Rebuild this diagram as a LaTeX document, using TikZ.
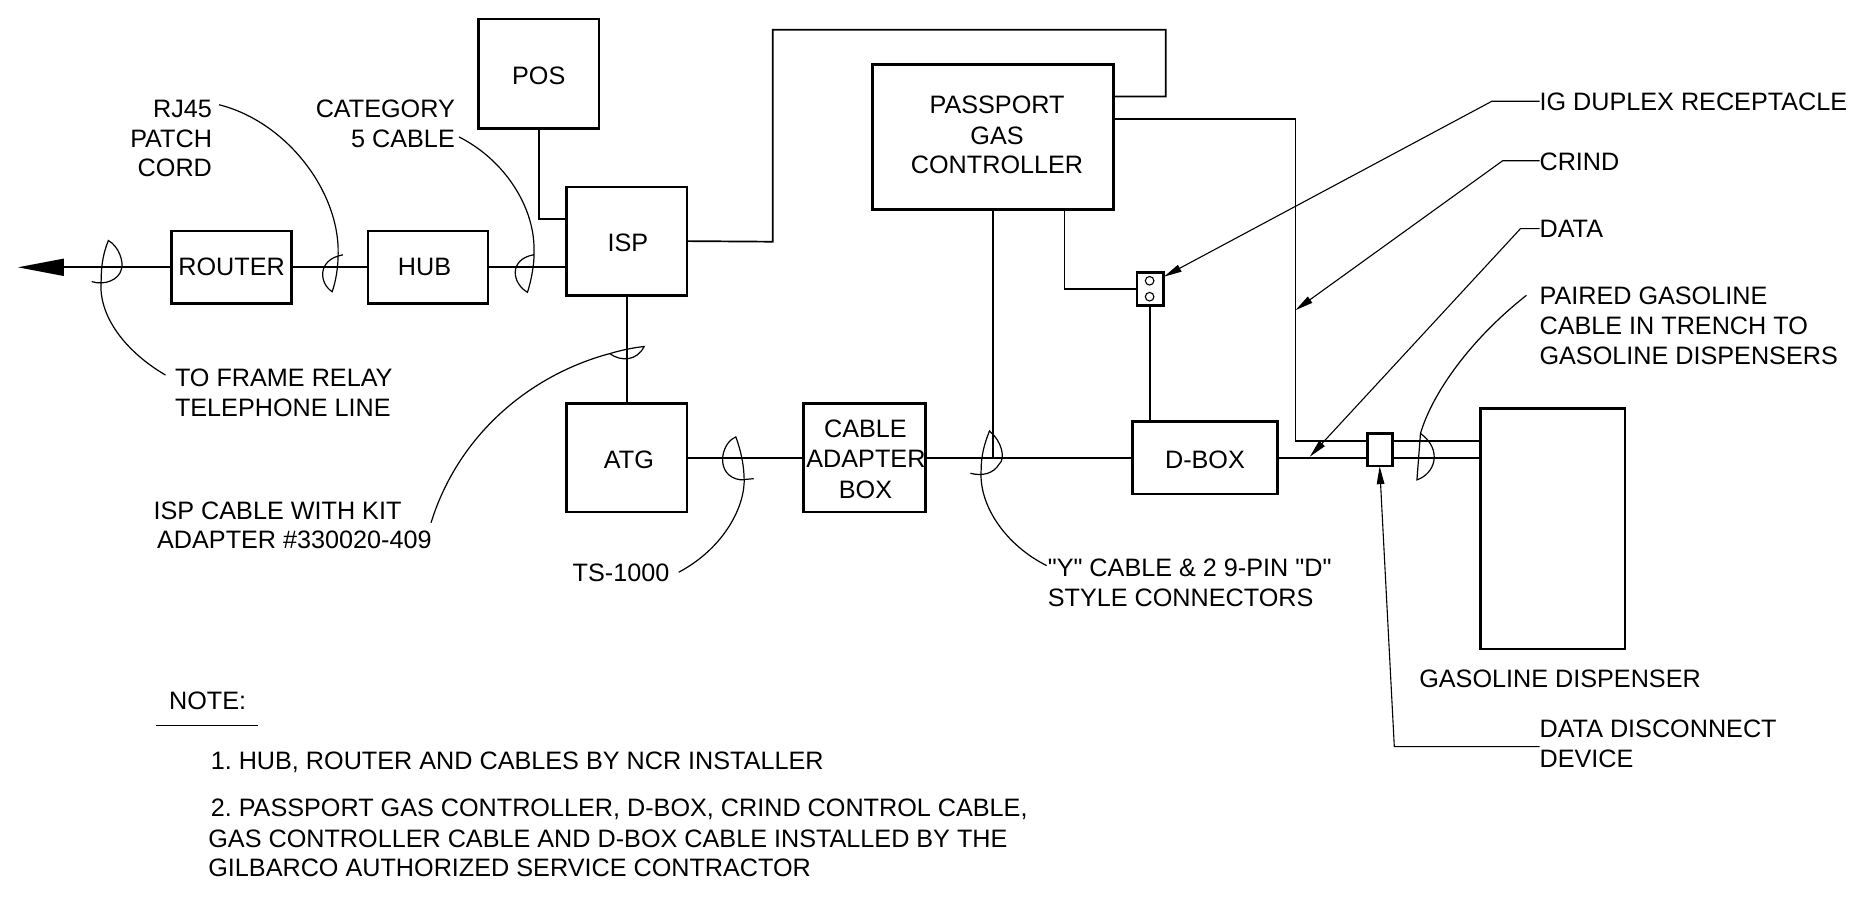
\documentclass[tikz,border=0pt]{standalone}
\usepackage{fontspec}
\setmainfont{Liberation Sans}[Ligatures=TeXOff]
\usetikzlibrary{arrows.meta}
\frenchspacing
\newcommand\sh[3]{\hspace*{#1pt}\raisebox{#2pt}[\height][\depth]{#3}}
\tikzset{
  boxnode/.style 2 args={draw,line width=2.6pt,inner sep=0pt,outer sep=0pt,align=center,
     minimum width=#1*1.1907pt,minimum height=#2*1.1907pt,font=\fontsize{25.2}{30.2}\selectfont},
  txt/.style={inner sep=0pt,outer sep=0pt,font=\fontsize{25.2}{30.2}\selectfont,anchor=base west},
  txtr/.style={txt,anchor=base east},
  wire/.style={line width=1.7pt},
  leader/.style={line width=1.2pt},
  tiphead/.style={-{Triangle[length=18pt,width=7.5pt]},line width=1.1pt},
}
\begin{document}
\begin{tikzpicture}[x=1.1907pt,y=-1.1907pt]
\useasboundingbox (0,0) rectangle (1568,754.2);
% boxes
\node[boxnode={101}{92}] (pos) at (452.5,62) {\sh{0}{-2}{POS}};
\node[boxnode={101}{61}] (router) at (194.5,224.5) {ROUTER};
\node[boxnode={101}{61}] (hub) at (359.5,224.5) {\sh{0}{0}{HUB}\hspace*{7pt}};
\node[boxnode={101}{91}] (isp) at (526.5,202.5) {\sh{2}{-2}{ISP}};
\node[boxnode={202}{122}] (gc) at (834,115) {\sh{8}{2}{PASSPORT}\\\sh{8}{1}{GAS}\\\sh{8}{2}{CONTROLLER}};
\node[boxnode={101}{91}] (atg) at (526.5,384.5) {\sh{4}{-1.6}{ATG}};
\node[boxnode={102}{91}] (cab) at (726,384.5) {\sh{2}{-1}{CABLE}\\\sh{3}{-1}{ADAPTER}\\\sh{2}{-2.2}{BOX}};
\node[boxnode={121.5}{61}] (dbox) at (1012,384.5) {\sh{0}{-1.6}{D-BOX}};
\node[boxnode={22}{28}] (rec) at (966,242.7) {};
\node[boxnode={121.5}{202}] (disp) at (1304,444) {};
\draw[line width=1.1pt] (965.5,235.8) circle (3.6) (965.5,249.2) circle (3.6);
% named points
\coordinate (tip) at (15,224.5);
\coordinate (ispin) at (476,184);
\coordinate (a1) at (649,203);
\coordinate (a2) at (649,25);
\coordinate (a3) at (979,25);
\coordinate (a4) at (979,81);
\coordinate (gcb) at (935,81);
\coordinate (gcr) at (935,100);
\coordinate (b1) at (1088,100);
\coordinate (b2) at (1088,370.4);
\coordinate (dispa) at (1243,370.4);
\coordinate (dispb) at (1243,384.5);
\coordinate (gcc) at (834,176);
\coordinate (gcj) at (834,384.5);
\coordinate (gcd) at (894,176);
% wires
\draw[wire,-{Triangle[length=46pt,width=17pt]}] (router.west) -- (tip);
\draw[wire] (router.east) -- (hub.west);
\draw[wire] (hub.east) -- (isp.west |- hub.east);
\draw[wire] (pos.south) |- (ispin);
\draw[wire] (isp.east) -- (a1) -- (a2) -- (a3) -- (a4) -- (gcb);
\draw[wire] (isp.south) -- (atg.north);
\draw[wire] (gcr) -- (b1) -- (b2) -- (dispa);
\draw[wire] (gcc) -- (gcj);
\draw[wire] (gcd) |- (rec.west);
\draw[wire] (rec.south) -- (rec.south |- dbox.north);
\draw[wire] (atg.east) -- (cab.west);
\draw[wire] (cab.east) -- (dbox.west);
\draw[wire] (dbox.east) -- (dispb);
% disconnect device sits over the two wires
\node[boxnode={21}{27.5},fill=white] (ddd) at (1159,377.7) {};
% callout leaders
\coordinate (lig) at (1293,85);
\coordinate (lcr) at (1293,135);
\coordinate (lda) at (1293,192);
\coordinate (ldd) at (1293,627);
\draw[tiphead] (lig) -- (1253,85) -- (977.5,232.4);
\draw[tiphead] (lcr) -- (1262,135) -- (1088,260.5);
\draw[tiphead] (lda) -- (1277,192) -- (1100,383.6);
\draw[tiphead] (ldd) -- (1171,627) -- (1158.7,391.5);
\draw[leader] (139,315) .. controls (105,295) and (82,265) .. (85,235) .. controls (85,222) and (87,212) .. (91,202) .. controls (100,207) and (104,220) .. (102,226) .. controls (100,235) and (88,240) .. (77,236.5);
\draw[leader] (184,88) .. controls (240,102) and (285,160) .. (284,213) .. controls (284,225) and (282,236) .. (279,245) .. controls (268,238) and (266,218) .. (288,214);
\draw[leader] (385.5,115) .. controls (425,135) and (449,175) .. (448.5,210) .. controls (449,222) and (446,236) .. (443,245.5) .. controls (430,238) and (427,218) .. (448,214);
\draw[leader] (362,439) .. controls (385,365) and (445,315) .. (512,297) .. controls (522,294) and (532,292) .. (541,291) .. controls (535,303) and (522,304) .. (512,297);
\draw[leader] (570,480.6) .. controls (605,462) and (624,430) .. (625,405) .. controls (625,390) and (622,378) .. (618,367) .. controls (605,372) and (600,400) .. (622,403) -- (633,402);
\draw[leader] (879,475) .. controls (845,458) and (822,425) .. (824,395) .. controls (824,382) and (827,372) .. (831,362) .. controls (841,370) and (845,385) .. (839,390) .. controls (834,398) and (825,400) .. (815,397.5);
\draw[leader] (1282,248) .. controls (1235,285) and (1203,330) .. (1193,364) .. controls (1192,377) and (1191,390) .. (1190,403) .. controls (1205,398) and (1212,378) .. (1193,364);
\coordinate (nu1) at (131,609);
\coordinate (nu2) at (217,609);
\draw[leader] (nu1) -- (nu2);
% labels
\node[txtr] (t1) at (178,98.5) {RJ45};
\node[txtr] (t2) at (178,123.5) {PATCH};
\node[txtr] (t3) at (178,148.5) {CORD};
\node[txtr] (t4) at (382,98.5) {CATEGORY};
\node[txtr] (t5) at (382,123.5) {5 CABLE};
\node[txt] (t6) at (147,324.5) {TO FRAME RELAY};
\node[txt] (t7) at (147,350) {TELEPHONE LINE};
\node[txt] (t8) at (129,436) {ISP CABLE WITH KIT};
\node[txt] (t9) at (132,461) {ADAPTER \#330020-409};
\node[txt] (t10) at (481,488) {TS-1000};
\node[txt] (t11) at (880,484) {"Y" CABLE \& 2 9-PIN "D"};
\node[txt] (t12) at (880,509) {STYLE CONNECTORS};
\node[txt] (t13) at (1192,577.5) {GASOLINE DISPENSER};
\node[txt] (t14) at (1293,619.5) {DATA DISCONNECT};
\node[txt] (t15) at (1293,644.5) {DEVICE};
\node[txt] (t16) at (1293,92.5) {IG DUPLEX RECEPTACLE};
\node[txt] (t17) at (1293,143) {CRIND};
\node[txt] (t18) at (1293,199.5) {DATA};
\node[txt] (t19) at (1293,255.5) {PAIRED GASOLINE};
\node[txt] (t20) at (1293,281) {CABLE IN TRENCH TO};
\node[txt] (t21) at (1293,306.5) {GASOLINE DISPENSERS};
\node[txt] (t22) at (142,595.5) {NOTE:};
\node[txt] (t23) at (177,646.5) {1. HUB, ROUTER AND CABLES BY NCR INSTALLER};
\node[txt] (t24) at (177,686) {2. PASSPORT GAS CONTROLLER, D-BOX, CRIND CONTROL CABLE,};
\node[txt] (t25) at (175,711.5) {GAS CONTROLLER CABLE AND D-BOX CABLE INSTALLED BY THE};
\node[txt] (t26) at (175,736.5) {GILBARCO AUTHORIZED SERVICE CONTRACTOR};
\end{tikzpicture}
\end{document}
